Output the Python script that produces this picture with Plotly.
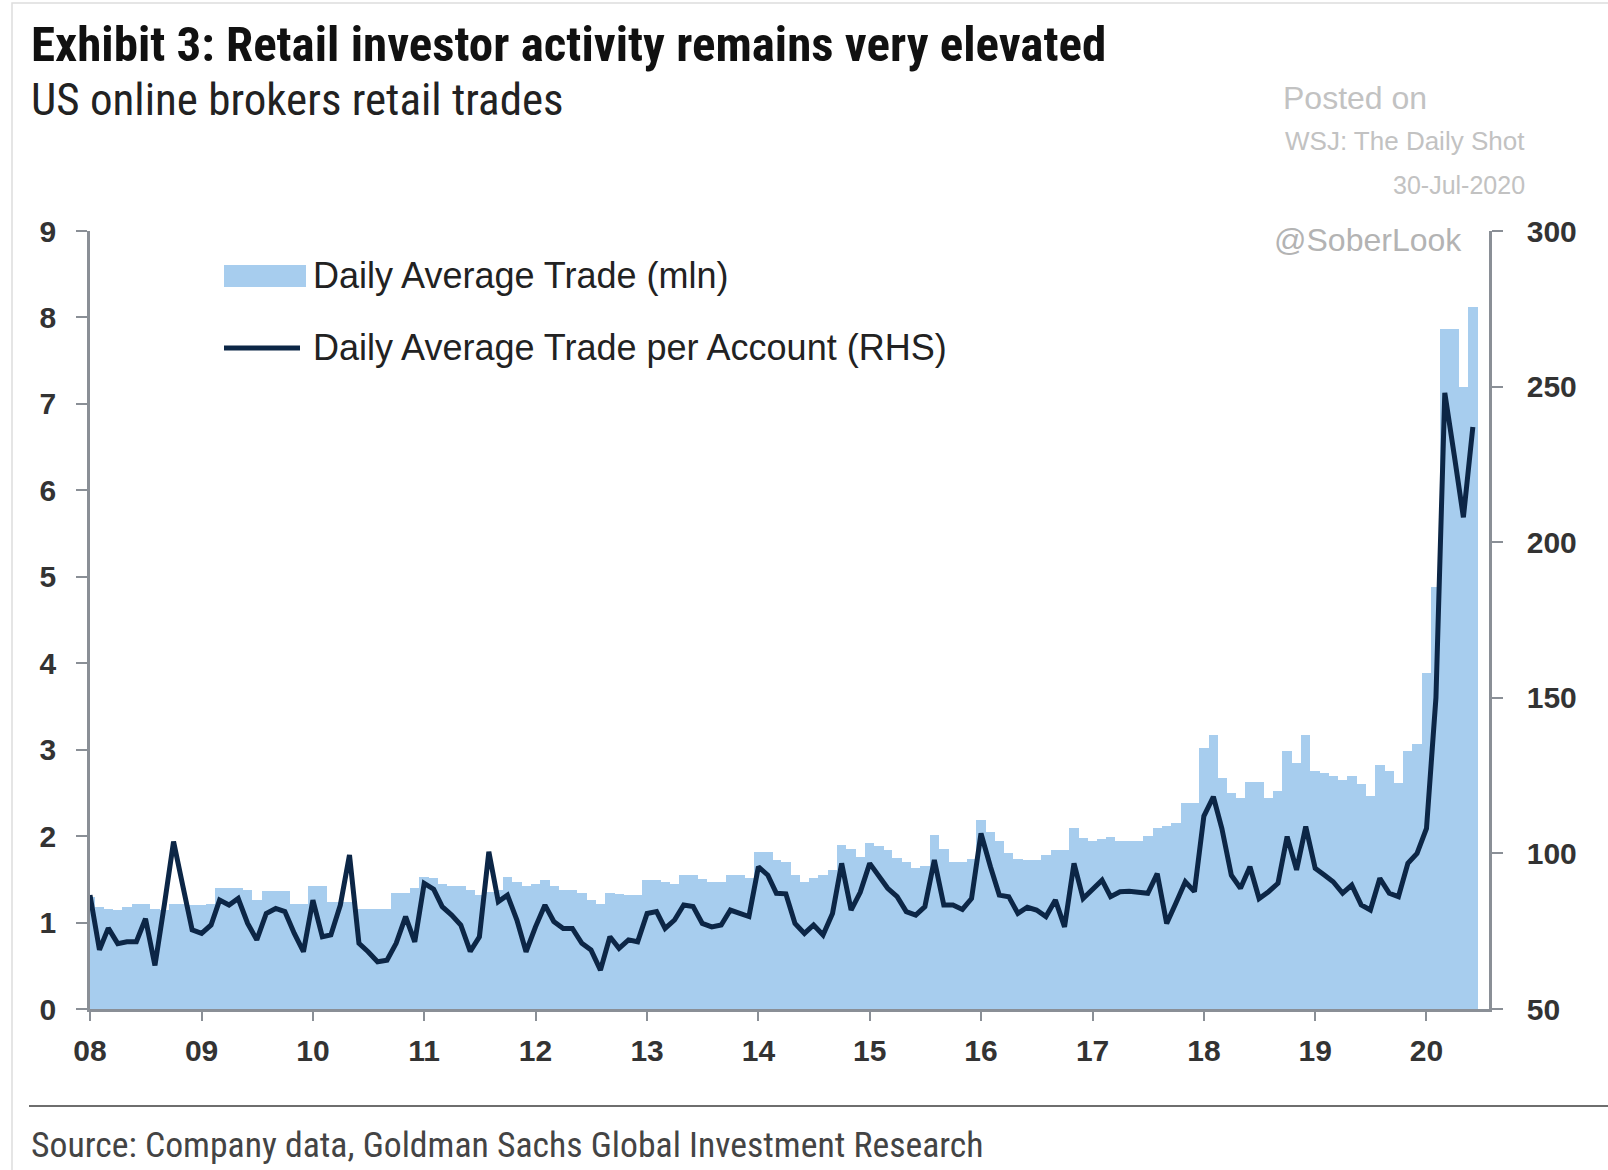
import plotly.graph_objects as go
import pandas as pd

# monthly data, Jan 2008 - Jun 2020
months = pd.date_range("2008-01-01", periods=150, freq="MS")

trades_mln = [
    1.30, 1.18, 1.16, 1.15, 1.18, 1.22, 1.22, 1.16, 1.15, 1.22, 1.22, 1.20,   # 2008
    1.20, 1.22, 1.40, 1.40, 1.40, 1.38, 1.26, 1.36, 1.36, 1.36, 1.22, 1.22,   # 2009
    1.42, 1.42, 1.24, 1.24, 1.24, 1.16, 1.16, 1.16, 1.16, 1.34, 1.34, 1.40,   # 2010
    1.53, 1.51, 1.45, 1.42, 1.42, 1.38, 1.32, 1.35, 1.38, 1.53, 1.47, 1.42,   # 2011
    1.45, 1.49, 1.42, 1.38, 1.38, 1.34, 1.26, 1.22, 1.34, 1.33, 1.32, 1.32,   # 2012
    1.49, 1.49, 1.47, 1.45, 1.55, 1.55, 1.50, 1.47, 1.47, 1.55, 1.55, 1.52,   # 2013
    1.82, 1.82, 1.72, 1.70, 1.55, 1.47, 1.51, 1.55, 1.61, 1.90, 1.85, 1.76,   # 2014
    1.92, 1.88, 1.84, 1.75, 1.70, 1.63, 1.65, 2.01, 1.85, 1.70, 1.70, 1.74,   # 2015
    2.19, 2.05, 1.94, 1.80, 1.74, 1.72, 1.72, 1.78, 1.84, 1.84, 2.09, 1.98,   # 2016
    1.94, 1.97, 1.99, 1.94, 1.94, 1.94, 2.00, 2.09, 2.12, 2.15, 2.38, 2.38,   # 2017
    3.02, 3.17, 2.67, 2.50, 2.44, 2.63, 2.63, 2.44, 2.52, 2.98, 2.85, 3.17,   # 2018
    2.75, 2.73, 2.69, 2.65, 2.69, 2.60, 2.46, 2.82, 2.75, 2.61, 2.98, 3.07,   # 2019
    3.89, 4.88, 7.87, 7.87, 7.20, 8.12,                                       # 2020
]

trades_per_account = [
    86.6, 69.0, 76.0, 71.0, 71.6, 71.6, 79.0, 64.0, 83.6, 103.8, 89.3, 75.4,
    74.3, 77.0, 85.0, 83.4, 85.5, 77.5, 72.2, 80.7, 82.3, 81.3, 74.3, 68.4,
    85.0, 73.2, 73.8, 83.4, 99.5, 71.1, 68.4, 65.2, 65.7, 71.1, 79.7, 71.6,
    90.4, 88.5, 82.9, 80.2, 77.0, 68.5, 73.2, 100.5, 84.5, 86.6, 78.6, 68.4,
    76.4, 83.4, 78.1, 75.9, 75.9, 71.1, 69.0, 62.5, 73.2, 69.5, 72.2, 71.6,
    80.7, 81.3, 75.9, 78.6, 83.4, 82.9, 77.5, 76.4, 77.0, 81.8, 80.7, 79.7,
    95.7, 93.0, 87.2, 87.0, 77.5, 74.3, 77.0, 73.8, 80.7, 96.8, 81.8, 87.5,
    96.8, 92.5, 88.8, 86.1, 81.3, 80.2, 82.9, 97.9, 83.4, 83.4, 82.0, 85.5,
    106.4, 95.7, 86.6, 86.1, 80.7, 82.7, 81.8, 79.7, 85.0, 76.4, 96.8, 85.5,
    88.2, 91.4, 86.1, 87.7, 87.8, 87.5, 87.2, 93.5, 77.5, 84.0, 90.9, 87.7,
    112.0, 118.2, 108.0, 93.0, 88.8, 95.7, 85.5, 87.7, 90.4, 105.4, 94.7, 108.6,
    95.2, 93.0, 90.9, 87.2, 89.8, 83.4, 81.8, 92.0, 87.2, 86.1, 96.8, 100.0,
    108.0, 150.0, 248.0, 228.0, 208.0, 237.0,
]

year_ticks = pd.date_range("2008-01-01", "2020-01-01", freq="YS")
year_labels = ["08", "09", "10", "11", "12", "13", "14", "15", "16", "17", "18", "19", "20"]

BAR = "#a7cdee"
NAVY = "#0c2646"
AXIS = "#8a8f96"
TICKFONT = dict(family="Liberation Sans, Arial", size=30, color="#333333", weight="bold")
NARROW = "Liberation Sans Narrow, Arial Narrow, Roboto Condensed, Roboto"

W, H = 1608, 1170
L, R, T, B = 90, 1489, 231, 1009


def px(x):
    return (x - L) / (R - L)


def py(y):
    return (B - y) / (B - T)


fig = go.Figure()
fig.add_trace(go.Bar(x=months, y=trades_mln, width=31 * 86400000,
                     marker=dict(color=BAR, line_width=0), showlegend=False))
fig.add_trace(go.Scatter(x=months, y=trades_per_account, yaxis="y2", mode="lines",
                         line=dict(color=NAVY, width=5), showlegend=False))

annotations = [
    dict(text="<b>Exhibit 3: Retail investor activity remains very elevated</b>",
         x=px(29), y=py(45), font=dict(family=NARROW, size=49, color="#111111")),
    dict(text="US online brokers retail trades",
         x=px(29), y=py(99), font=dict(family=NARROW, size=45, color="#222222")),
    dict(text="Posted on", x=px(1281), y=py(98),
         font=dict(family="Liberation Sans", size=32, color="#c2c2c2")),
    dict(text="WSJ: The Daily Shot", x=px(1527), y=py(141), xanchor="right",
         font=dict(family="Liberation Sans", size=26, color="#c2c2c2")),
    dict(text="30-Jul-2020", x=px(1527), y=py(185), xanchor="right",
         font=dict(family="Liberation Sans", size=25, color="#c2c2c2")),
    dict(text="@SoberLook", x=px(1272), y=py(240),
         font=dict(family="Liberation Sans", size=32, color="#b3b3b3")),
    dict(text="Daily Average Trade (mln)", x=px(311), y=py(275),
         font=dict(family="Liberation Sans", size=36, color="#222222")),
    dict(text="Daily Average Trade per Account (RHS)", x=px(311), y=py(347),
         font=dict(family="Liberation Sans", size=36, color="#222222")),
    dict(text="Source: Company data, Goldman Sachs Global Investment Research",
         x=px(29), y=py(1145), font=dict(family=NARROW, size=35.7, color="#444444")),
]
for a in annotations:
    a.setdefault("xanchor", "left")
    a.update(xref="paper", yref="paper", yanchor="middle", showarrow=False)

shapes = [
    dict(type="rect", x0=px(224), x1=px(306), y0=py(287), y1=py(265),
         fillcolor=BAR, line_width=0),
    dict(type="line", x0=px(224), x1=px(300), y0=py(348), y1=py(348),
         line=dict(color=NAVY, width=5)),
    dict(type="line", x0=px(29), x1=px(1608), y0=py(1106), y1=py(1106),
         line=dict(color="#6e6e6e", width=2)),
    dict(type="rect", x0=px(12), x1=px(1620), y0=py(1180), y1=py(3),
         line=dict(color="#dddddd", width=1.5)),
]
for s in shapes:
    s.update(xref="paper", yref="paper")

fig.update_layout(
    width=W, height=H,
    margin=dict(l=L, r=W - R, t=T, b=H - B),
    paper_bgcolor="white", plot_bgcolor="white",
    bargap=0,
    annotations=annotations, shapes=shapes,
    xaxis=dict(type="date", range=["2008-01-01", "2020-07-24"],
               tickvals=year_ticks, ticktext=year_labels,
               ticks="outside", ticklen=9, tickwidth=2, tickcolor=AXIS,
               showline=True, linecolor=AXIS, linewidth=2.5,
               showgrid=False, zeroline=False, tickfont=TICKFONT,
               ticklabelstandoff=4),
    yaxis=dict(range=[0, 9], dtick=1, ticks="outside", ticklen=11, tickwidth=2,
               tickcolor=AXIS, showline=True, linecolor=AXIS, linewidth=2.5,
               showgrid=False, zeroline=False, tickfont=TICKFONT,
               ticklabelstandoff=14),
    yaxis2=dict(range=[50, 300], dtick=50, overlaying="y", side="right",
                ticks="outside", ticklen=11, tickwidth=2, tickcolor=AXIS,
                showline=True, linecolor=AXIS, linewidth=2.5,
                showgrid=False, zeroline=False, tickfont=TICKFONT,
                ticklabelstandoff=18),
)

fig.write_html("out.html", config={"displayModeBar": False},
               post_script="document.body.style.margin='0';")
